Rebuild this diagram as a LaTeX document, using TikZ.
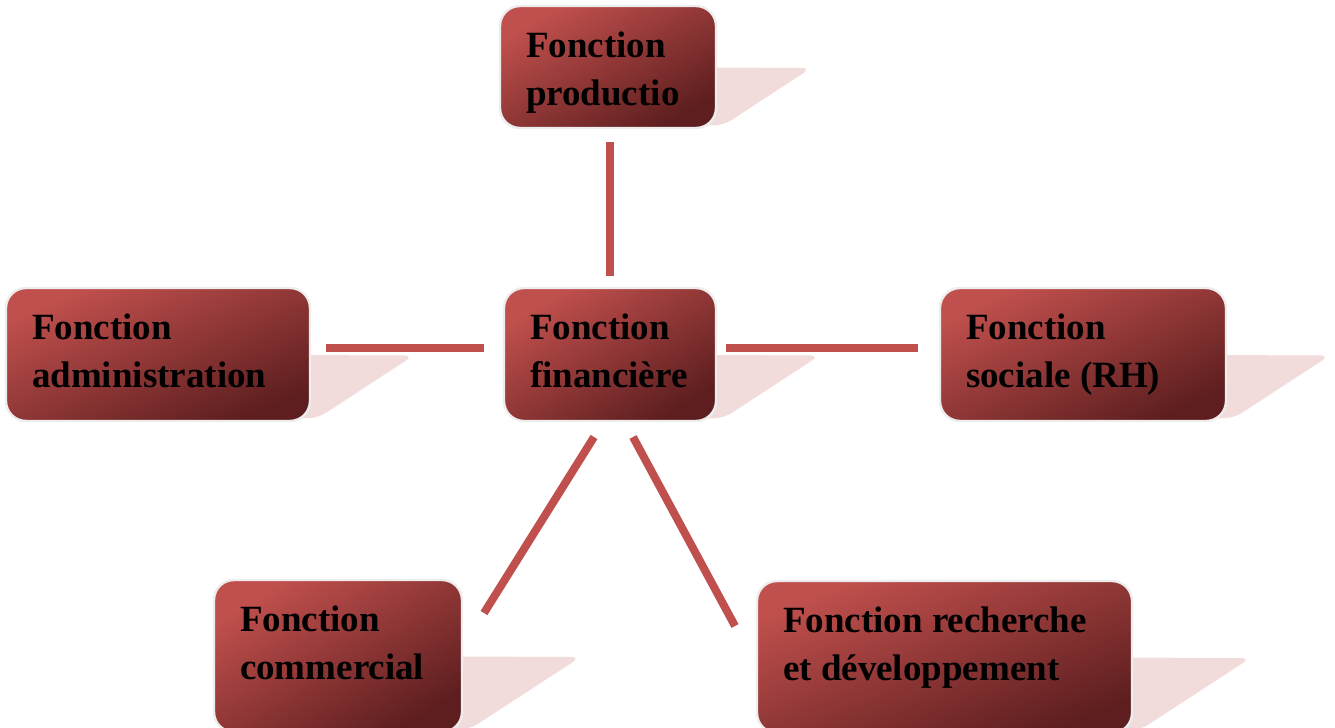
\documentclass[tikz,border=0pt]{standalone}
\usepackage{fontspec}
\setmainfont{Liberation Serif}
\usetikzlibrary{calc,backgrounds}

\definecolor{boxlight}{HTML}{C0504D}
\definecolor{boxdark}{HTML}{5E1E1F}
\definecolor{shadowpink}{HTML}{F2DCDB}
\definecolor{linkred}{HTML}{C0504D}
\definecolor{rimgray}{HTML}{EDEDED}

\tikzset{
  fbox/.style={rectangle, rounded corners=15pt, draw=rimgray, line width=1.8pt,
    top color=boxlight, bottom color=boxdark,
    inner sep=0pt, outer sep=0pt},
  flabel/.style={anchor=north west, inner sep=0pt, outer sep=0pt, align=left,
    font=\fontsize{27.75pt}{36pt}\selectfont\bfseries},
  link/.style={draw=linkred, line width=6pt},
  backshadow/.style={fill=shadowpink, rounded corners=7pt}
}

% #1 name, #2/#3 centre, #4/#5 width/height, #6 label
\newcommand\funcbox[6]{%
  \pgfmathsetmacro\fboxangle{atan(#5/#4)}%
  \node[fbox, shading angle=\fboxangle,
        minimum width=#4*0.75pt, minimum height=#5*0.75pt] (#1) at (#2,#3) {};
  \begin{scope}[on background layer]
    \fill[backshadow] (#1.center) -- ($(#1.east)+({0.78*#5},1)$)
      -- ($(#1.south east)+(8,-3)$) -- (#1.south) -- cycle;
  \end{scope}
  \node[flabel] (#1-text) at ($(#1.north west)+(26,26)$) {#6};
}

\begin{document}
\begin{tikzpicture}[x=0.75pt, y=-0.75pt]
  \useasboundingbox (0,0) rectangle (1335,728);

  \funcbox{prod}{608}{67}{216}{122}{Fonction\\productio}
  \funcbox{adm}{158}{354.5}{304}{133}{Fonction\\administration}
  \funcbox{fin}{610}{354.5}{212}{133}{Fonction\\financière}
  \funcbox{rh}{1083}{354.5}{286}{133}{Fonction\\sociale (RH)}
  \funcbox{com}{338}{656}{248}{152}{Fonction\\commercial}
  \funcbox{rd}{944.5}{657}{375}{152}{Fonction recherche\\et développement}

  % connectors around the central function
  \draw[link] ($(fin.north |- prod.south)+(0,14)$) -- ($(fin.north)+(0,-12)$);
  \draw[link] ($(adm.east)+(16,-6.5)$) -- ($(fin.west)+(-20,-6.5)$);
  \draw[link] ($(fin.east)+(10,-6.5)$) -- ($(rh.west)+(-22,-6.5)$);
  \draw[link] ($(fin.south)+(-16,16)$) -- ($(com.north east)+(22,33)$);
  \draw[link] ($(fin.south)+(23,16)$) -- ($(rd.north west)+(-22,45)$);
\end{tikzpicture}
\end{document}
